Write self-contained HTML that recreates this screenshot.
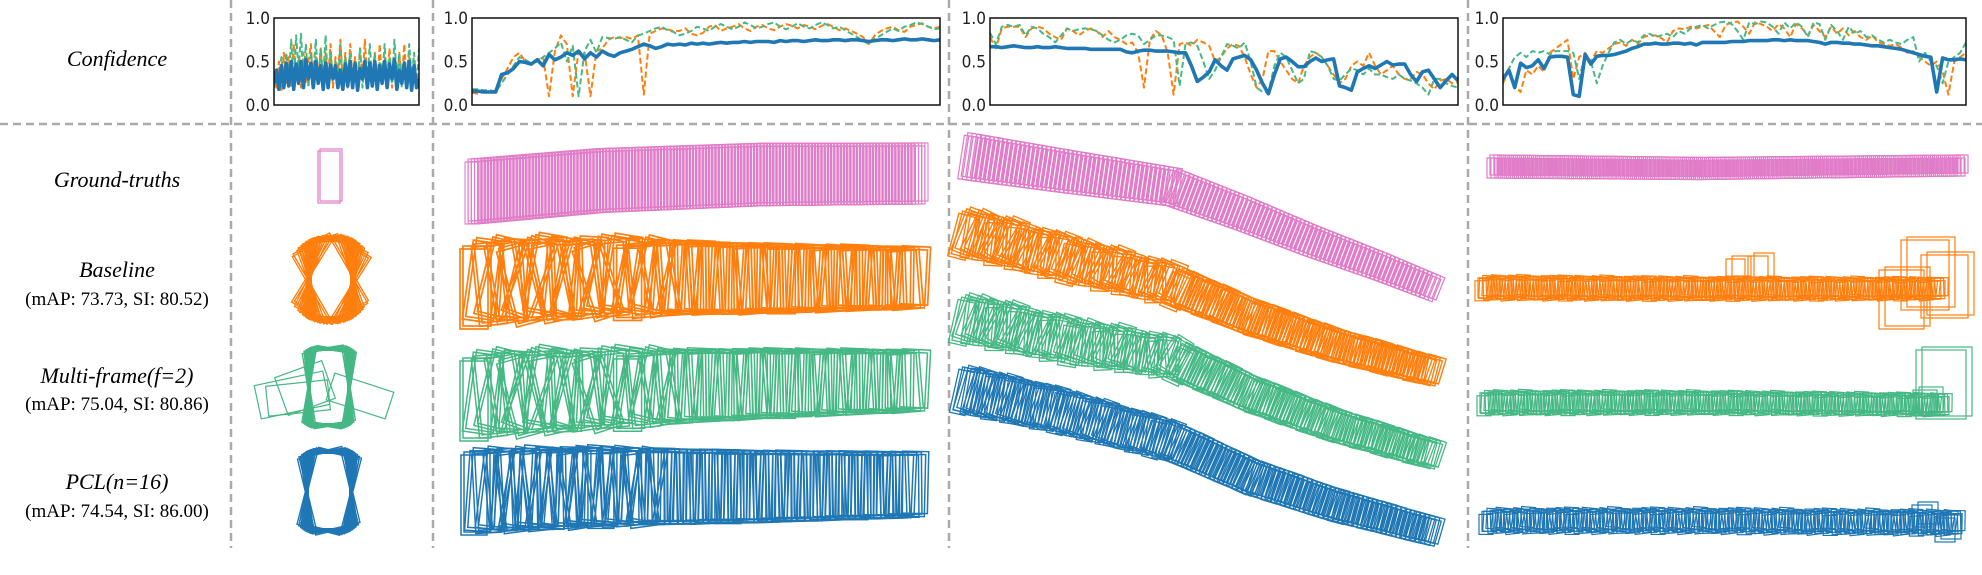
<!DOCTYPE html>
<html><head><meta charset="utf-8"><style>
html,body{margin:0;padding:0;background:#fff;}
svg{display:block;}
</style></head><body>
<svg id="fig" width="1982" height="575" viewBox="0 0 1982 575" xmlns="http://www.w3.org/2000/svg">
<g id="labels" font-family="'Liberation Serif', serif" text-anchor="middle" fill="#000">
<text x="117" y="66" font-size="22" font-style="italic">Confidence</text>
<text x="117" y="187" font-size="22" font-style="italic">Ground-truths</text>
<text x="117" y="277" font-size="22" font-style="italic">Baseline</text>
<text x="117" y="305" font-size="19">(mAP: 73.73, SI: 80.52)</text>
<text x="117" y="383" font-size="22" font-style="italic">Multi-frame(f=2)</text>
<text x="117" y="410" font-size="19">(mAP: 75.04, SI: 80.86)</text>
<text x="117" y="489" font-size="22" font-style="italic">PCL(n=16)</text>
<text x="117" y="517" font-size="19">(mAP: 74.54, SI: 86.00)</text>
</g>
<g id="seps" stroke="#aaa" stroke-width="2.5" stroke-dasharray="8,5">
<line x1="0" y1="124" x2="1982" y2="124"/>
<line x1="231" y1="0" x2="231" y2="548"/>
<line x1="433" y1="0" x2="433" y2="548"/>
<line x1="949" y1="0" x2="949" y2="548"/>
<line x1="1468" y1="0" x2="1468" y2="548"/>
</g>
<g id="charts"></g>
<g id="tracks" fill="none" stroke-width="1.2"></g>
</svg>
<script>
// ---- confidence data ----
const c1Blue=[.25,.4,.18,.45,.2,.48,.22,.5,.18,.47,.25,.5,.2,.52,.3,.48,.2,.5,.25,.45,.18,.48,.2,.46,.3,.45,.2,.4,.18,.47,.22,.5,.2,.48,.17,.42,.3,.5,.2,.48,.22,.5,.18,.45,.25,.5,.2,.47,.3,.52,.18,.4,.25,.48,.2,.5,.17,.45,.2,.3];
const c1Orange=[.35,.2,.5,.15,.6,.25,.55,.2,.7,.3,.55,.2,.6,.25,.5,.7,.2,.55,.3,.65,.2,.6,.3,.7,.2,.55,.35,.75,.25,.6,.2,.7,.3,.55,.2,.65,.3,.75,.2,.5,.3,.6,.2,.7,.25,.55,.3,.65,.2,.5,.25,.6,.3,.7,.2,.55,.3,.5,.2,.35];
const c1Green=[.2,.3,.25,.55,.2,.6,.3,.75,.2,.8,.4,.82,.3,.7,.2,.6,.35,.75,.25,.65,.3,.8,.2,.6,.3,.5,.25,.7,.2,.55,.35,.6,.2,.5,.3,.65,.2,.55,.3,.7,.25,.6,.2,.5,.3,.7,.2,.55,.25,.75,.3,.6,.2,.5,.25,.7,.3,.6,.2,.65];
const c2Blue=[.16,.16,.15,.15,.15,.35,.37,.42,.5,.49,.47,.52,.45,.58,.52,.55,.6,.57,.62,.53,.6,.55,.62,.58,.56,.6,.62,.64,.67,.7,.68,.65,.67,.7,.69,.7,.69,.71,.7,.71,.7,.71,.72,.71,.72,.72,.73,.72,.73,.73,.73,.72,.74,.73,.74,.74,.73,.74,.75,.74,.74,.75,.75,.74,.75,.75,.74,.73,.74,.75,.75,.74,.75,.76,.75,.75,.76,.75,.74,.75];
const c2Orange=[.14,.13,.15,.14,.17,.3,.42,.55,.6,.5,.48,.52,.55,.1,.62,.8,.7,.1,.62,.6,.1,.62,.65,.75,.78,.77,.78,.76,.8,.12,.82,.85,.88,.87,.85,.85,.88,.82,.8,.83,.9,.92,.85,.88,.9,.93,.88,.85,.9,.92,.88,.86,.9,.93,.91,.88,.92,.9,.87,.91,.93,.9,.86,.88,.85,.82,.78,.7,.8,.85,.88,.9,.86,.84,.9,.92,.94,.9,.88,.9];
const c2Green=[.18,.18,.17,.17,.15,.25,.35,.45,.55,.52,.48,.5,.55,.6,.65,.72,.5,.68,.1,.62,.75,.6,.78,.77,.76,.78,.75,.72,.8,.82,.85,.88,.9,.86,.84,.8,.82,.85,.9,.88,.85,.9,.93,.9,.87,.9,.95,.92,.88,.9,.93,.95,.9,.87,.9,.94,.9,.88,.92,.95,.92,.88,.9,.86,.82,.78,.74,.7,.76,.8,.84,.88,.85,.9,.92,.95,.93,.9,.87,.88];
const c3Blue=[.67,.67,.66,.67,.68,.67,.66,.66,.67,.66,.66,.67,.66,.65,.65,.65,.65,.64,.64,.64,.64,.64,.64,.61,.6,.62,.63,.63,.62,.62,.62,.61,.6,.6,.45,.27,.32,.38,.52,.45,.4,.53,.55,.57,.52,.4,.25,.13,.35,.53,.55,.5,.44,.44,.5,.54,.5,.52,.53,.22,.2,.17,.38,.42,.45,.42,.46,.5,.46,.47,.47,.35,.27,.38,.4,.3,.2,.28,.35,.28];
const c3Orange=[.78,.65,.88,.9,.9,.9,.78,.88,.9,.88,.82,.78,.75,.88,.85,.8,.85,.88,.85,.78,.85,.78,.75,.7,.72,.6,.2,.75,.85,.8,.6,.12,.7,.72,.68,.75,.72,.68,.5,.55,.65,.7,.68,.55,.35,.2,.3,.62,.62,.5,.4,.3,.25,.45,.55,.6,.55,.45,.35,.25,.3,.45,.5,.45,.6,.45,.35,.4,.45,.35,.3,.3,.38,.35,.25,.18,.28,.3,.25,.26];
const c3Green=[.83,.7,.9,.92,.9,.92,.8,.9,.88,.82,.78,.72,.8,.88,.85,.87,.88,.87,.85,.8,.75,.72,.75,.8,.82,.8,.7,.75,.8,.8,.78,.75,.22,.7,.72,.68,.5,.3,.4,.55,.7,.68,.65,.72,.5,.2,.15,.15,.45,.6,.55,.4,.25,.3,.62,.6,.55,.45,.3,.28,.35,.42,.4,.35,.42,.35,.35,.32,.3,.35,.3,.28,.25,.2,.12,.3,.3,.25,.22,.2];
const c4Blue=[.3,.4,.2,.48,.43,.45,.52,.42,.55,.56,.56,.55,.12,.1,.58,.47,.56,.57,.57,.58,.6,.62,.65,.67,.7,.7,.71,.7,.7,.71,.71,.7,.71,.69,.72,.72,.72,.72,.72,.73,.73,.73,.74,.74,.74,.74,.75,.75,.74,.75,.74,.74,.74,.73,.72,.7,.72,.72,.71,.71,.7,.7,.69,.68,.68,.67,.66,.65,.64,.62,.6,.58,.56,.55,.15,.54,.52,.52,.53,.52];
const c4Orange=[.25,.4,.22,.15,.4,.35,.45,.38,.6,.65,.7,.75,.3,.55,.6,.5,.62,.6,.65,.7,.72,.68,.75,.7,.78,.8,.8,.77,.72,.85,.88,.87,.9,.88,.9,.92,.85,.78,.92,.95,.96,.9,.82,.95,.93,.9,.85,.93,.88,.78,.93,.88,.8,.92,.85,.78,.9,.82,.88,.8,.85,.78,.75,.8,.72,.7,.68,.7,.66,.6,.62,.55,.5,.45,.5,.38,.12,.5,.55,.6];
const c4Green=[.3,.42,.55,.6,.55,.62,.6,.62,.58,.62,.62,.62,.6,.3,.58,.5,.25,.45,.6,.72,.75,.7,.75,.72,.8,.82,.78,.8,.82,.78,.85,.82,.88,.9,.92,.88,.92,.95,.96,.93,.85,.75,.95,.93,.96,.95,.9,.82,.95,.88,.95,.9,.78,.95,.93,.75,.92,.85,.75,.9,.82,.85,.78,.8,.75,.72,.75,.72,.7,.75,.78,.5,.6,.5,.45,.25,.5,.55,.6,.72];
const yTicks=[0,0.5,1];
const yTickLabels=["0.0","0.5","1.0"];

const NS="http://www.w3.org/2000/svg";
const BLUE="#1f77b4",ORANGE="#ff7f0e",GREEN="#45b884",PINK="#e07cc8";
function mk(tag,attrs,parent){const e=document.createElementNS(NS,tag);for(const k in attrs)e.setAttribute(k,attrs[k]);parent.appendChild(e);return e;}

const chartsG=document.getElementById('charts');
const panels=[
 {x0:274,x1:419,b:c1Blue,o:c1Orange,g:c1Green},
 {x0:472,x1:940,b:c2Blue,o:c2Orange,g:c2Green},
 {x0:990,x1:1458,b:c3Blue,o:c3Orange,g:c3Green},
 {x0:1503,x1:1966,b:c4Blue,o:c4Orange,g:c4Green}
];
const Y0=105,Y1=18;
panels.forEach((p,pi)=>{
  const g=mk('g',{},chartsG);
  
  
  const xs=(i,n)=>p.x0+(p.x1-p.x0)*i/(n-1);
  const ys=v=>Y0+(Y1-Y0)*v;
  const clip=mk('clipPath',{id:'cl'+pi},g);
  mk('rect',{x:p.x0,y:Y1,width:p.x1-p.x0,height:Y0-Y1},clip);
  const lg=mk('g',{'clip-path':'url(#cl'+pi+')'},g);
  const series=[[p.o,ORANGE,'orange','6,3',2],[p.g,GREEN,'green','6,3',2],[p.b,BLUE,'blue','',3.6]];
  series.forEach(s=>{
    const d=s[0].map((v,i)=>(i?'L':'M')+xs(i,s[0].length).toFixed(1)+','+ys(v).toFixed(1)).join('');
    const path=mk('path',{d:d,fill:'none',stroke:s[1],'stroke-width':s[4],'stroke-linejoin':'round'},lg);
    if(s[3])path.setAttribute('stroke-dasharray',s[3]);
    
    
  });
  const frame=mk('rect',{x:p.x0,y:Y1,width:p.x1-p.x0,height:Y0-Y1,fill:'none',stroke:'#111','stroke-width':1.5},g);
  
  
  yTicks.forEach((t,i)=>{
    const tx=mk('text',{x:p.x0-4,y:ys(t)+6,'font-size':17,'text-anchor':'end','font-family':"'DejaVu Sans Condensed','DejaVu Sans',sans-serif",fill:'#222'},g);
    tx.textContent=yTickLabels[i];
    
    
  });
});

// ---- trajectory boxes ----
const tracksG=document.getElementById('tracks');
const jit=[0,8,-6,14,-10,4,-15,20,-4,10,-12,6,-2,16,-8,3,-18,12,-5,9];
function ptAt(pts,t){
  let L=[0];for(let i=1;i<pts.length;i++)L.push(L[i-1]+Math.hypot(pts[i][0]-pts[i-1][0],pts[i][1]-pts[i-1][1]));
  const s=t*L[L.length-1];let i=1;while(i<pts.length-1&&L[i]<s)i++;
  const f=(s-L[i-1])/(L[i]-L[i-1]||1);
  return [pts[i-1][0]+(pts[i][0]-pts[i-1][0])*f,pts[i-1][1]+(pts[i][1]-pts[i-1][1])*f,Math.atan2(pts[i][1]-pts[i-1][1],pts[i][0]-pts[i-1][0])*180/Math.PI];
}
function track(name,pts,n,w,h0,h1,color,jAmp,jEnd,align,sw){
  const g=mk('g',{stroke:color,'stroke-width':sw||1.2},tracksG);
  
  
  for(let i=0;i<n;i++){
    const t=i/(n-1);const [x,y,a]=ptAt(pts,t);
    const h=h0+(h1-h0)*t;
    const amp=t<jEnd?jAmp:jAmp*0.25;
    const ang=(align?a:0)+jit[i%jit.length]*amp;
    const dy=jit[(i+7)%jit.length]*amp*0.3;
    const b=mk('g',{transform:`translate(${x.toFixed(1)},${(y+dy).toFixed(1)}) rotate(${ang.toFixed(1)})`},g);
    mk('rect',{x:-w/2,y:-h/2,width:w,height:h},b);
    mk('rect',{x:-w/2+3,y:-h/2-3,width:w,height:h},b);
  }
}
// panel 2
track('gt-track-2',[[472,193],[600,182],[760,176],[918,175]],140,14,62,58,PINK,0,0,false,1.1);
track('baseline-track-2',[[474,283],[600,278],[760,280],[912,279]],58,28,80,58,ORANGE,1,0.45,false,1.7);
track('multiframe-track-2',[[474,395],[600,390],[760,385],[912,382]],58,28,80,58,GREEN,1,0.45,false,1.5);
track('pcl-track-2',[[474,492],[600,488],[760,488],[912,486]],70,26,80,62,BLUE,0.5,0.4,false,1.5);
// panel 3
track('gt-track-3',[[968,158],[1060,172],[1170,188],[1240,214],[1310,242],[1380,268],[1430,288]],110,14,44,24,PINK,0,0,true);
track('baseline-track-3',[[962,232],[1060,258],[1170,285],[1250,318],[1330,345],[1430,372]],90,18,44,26,ORANGE,0.8,0.45,true,1.4);
track('multiframe-track-3',[[962,318],[1060,340],[1170,358],[1250,395],[1330,425],[1430,455]],90,18,44,26,GREEN,0.8,0.45,true,1.3);
track('pcl-track-3',[[962,390],[1060,412],[1170,442],[1250,478],[1330,505],[1430,532]],100,16,44,26,BLUE,0.4,0.45,true,1.3);
// panel 4
track('gt-track-4',[[1492,168],[1700,170],[1960,167]],120,10,20,18,PINK,0,0,false);
track('baseline-track-4',[[1482,289],[1700,290],[1938,290]],110,14,20,18,ORANGE,0.3,1,false);
track('multiframe-track-4',[[1484,404],[1700,404],[1942,406]],110,14,20,18,GREEN,0.3,1,false);
track('pcl-track-4',[[1486,522],[1700,522],[1955,524]],110,14,20,20,BLUE,0.4,1,false);
const outliers=[
 [ORANGE,1901,240,48,70],[ORANGE,1921,255,47,63],[ORANGE,1879,270,45,59],[ORANGE,1726,259,19,20],[ORANGE,1748,256,20,24],
 [GREEN,1916,350,50,69],[GREEN,1913,390,24,26],[BLUE,1912,505,20,22],[BLUE,1935,518,20,24]];
outliers.forEach(o=>{
  const r=mk('rect',{x:o[1],y:o[2],width:o[3],height:o[4],stroke:o[0]},tracksG);
  
  
  const r2=mk('rect',{x:o[1]+6,y:o[2]-3,width:o[3],height:o[4],stroke:o[0]},tracksG);
  
  
});
// panel 1 (stationary object)
const angs=[-30,-20,-12,-6,0,5,10,18,25,32,-3,3,-8,8,0,2,-2,15,-15,0];
function blob(name,cx,cy,w,h,color,n,amp){
  const g=mk('g',{stroke:color},tracksG);
  
  
  for(let i=0;i<n;i++){
    const a=angs[i%angs.length]*amp;
    const b=mk('g',{transform:`translate(${cx},${cy}) rotate(${a})`},g);
    mk('rect',{x:-w/2,y:-h/2,width:w,height:h},b);
    mk('rect',{x:-w/2+2,y:-h/2-2,width:w,height:h},b);
  }
}
blob('gt-box-1',329,177,22,52,PINK,1,0);
blob('baseline-box-1',330,280,42,78,ORANGE,40,1);
blob('multiframe-box-1',328,388,40,76,GREEN,40,0.3);
const wide=[[292,395,70,34,-12],[298,398,62,30,-6],[360,396,62,28,18],[305,388,50,40,-20]];
wide.forEach(w=>{const r=mk('rect',{x:-w[2]/2,y:-w[3]/2,width:w[2],height:w[3],stroke:GREEN,transform:`translate(${w[0]},${w[1]}) rotate(${w[4]})`},tracksG);
 
 });
blob('pcl-box-1',328,492,44,78,BLUE,40,0.45);
</script>
</body></html>
